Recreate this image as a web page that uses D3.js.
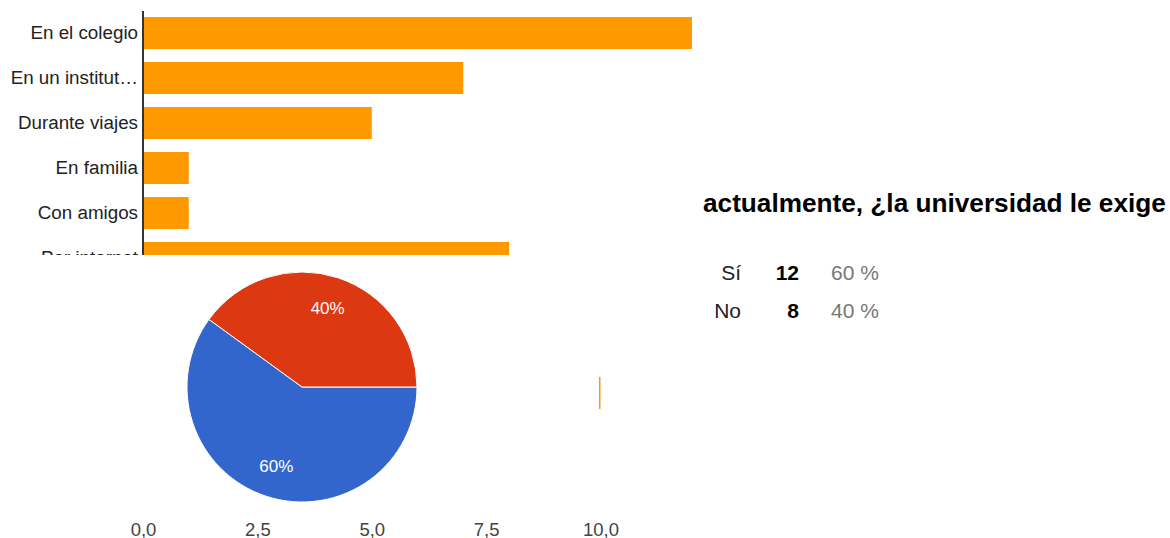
<!DOCTYPE html>
<html><head><meta charset="utf-8">
<script src="https://cdn.jsdelivr.net/npm/d3@7"></script>
<style>
html,body{margin:0;padding:0;background:#fff;}
svg{display:block;font-family:"Liberation Sans",Arial,sans-serif;}
</style></head>
<body>
<svg id="c" width="1170" height="538"></svg>
<script>
// Bar chart data (categories 7-8 are hidden behind the pie panel; values estimated)
const barCategories = ["En el colegio","En un institut…","Durante viajes","En familia","Con amigos","Por internet","Viendo películas","Escuchando música","Por cuenta propia"];
const barValues = [12,7,5,1,1,8,3,2,10];
const visibleLabelCount = 6;
const xTickValues = [0,2.5,5,7.5,10];

// Pie data
const pieLabels = ["Sí","No"];
const pieValues = [12,8];
const pieColors = ["#3366cc","#dc3912"];

// Table
const tableTitle = "actualmente, ¿la universidad le exige";
const tableCounts = [12,8];
const tablePercents = ["60 %","40 %"];

const svg = d3.select("#c");

// ----- bar chart -----
const x = d3.scaleLinear().domain([0,12.5]).range([143, 143+12.5*45.75]);
const n = barCategories.length;
const y = d3.scaleBand().domain(barCategories).range([10.5, 10.5+45*n]).paddingInner(13/45).paddingOuter(6.5/45);

const bars = svg.append("g");
bars.selectAll("rect").data(barCategories).join("rect")
  .attr("x", x(0)).attr("y", d=>y(d))
  .attr("width", (d,i)=>x(barValues[i])-x(0))
  .attr("height", y.bandwidth())
  .attr("fill","#ff9900");

const yAxis = svg.append("g").attr("transform",`translate(${x(0)},0)`)
  .call(d3.axisLeft(y).tickSize(0).tickPadding(5));
yAxis.select(".domain").remove();
yAxis.selectAll(".tick").filter((d,i)=>i>=visibleLabelCount).remove();
yAxis.selectAll("text").attr("font-size","18.8px").attr("fill","#222")
  .attr("font-family","Liberation Sans, Arial, sans-serif");
svg.append("line").attr("x1",x(0)).attr("x2",x(0)).attr("y1",11).attr("y2",y.range()[1])
  .attr("stroke","#333").attr("stroke-width",2);

const xAxis = svg.append("g").attr("transform","translate(0,517)")
  .call(d3.axisBottom(x).tickValues(xTickValues).tickSize(0).tickPadding(0)
     .tickFormat(d=>d3.format(".1f")(d).replace(".",",")));
xAxis.select(".domain").remove();
xAxis.selectAll("text").attr("font-size","18.5px").attr("fill","#444")
  .attr("dy","1em").attr("y",0)
  .attr("font-family","Liberation Sans, Arial, sans-serif");

// ----- pie panel (covers lower bar chart) -----
svg.append("rect").attr("x",0).attr("y",255).attr("width",599).attr("height",259).attr("fill","#fff");

const cx = 302, cy = 387, r = 115;
const pie = d3.pie().sort(null).value(d=>d).startAngle(Math.PI/2).endAngle(Math.PI/2+2*Math.PI);
const arcs = pie(pieValues);
const arc = d3.arc().innerRadius(0).outerRadius(r);
const labelArc = d3.arc().innerRadius(83).outerRadius(83);
const pg = svg.append("g").attr("transform",`translate(${cx},${cy})`);
pg.selectAll("path").data(arcs).join("path")
  .attr("d",arc).attr("fill",(d,i)=>pieColors[i]).attr("stroke","#fff").attr("stroke-width",1);
pg.selectAll("text").data(arcs).join("text")
  .attr("transform",d=>`translate(${labelArc.centroid(d)})`)
  .attr("text-anchor","middle").attr("dy","0.35em")
  .attr("font-size","17px").attr("fill","#fff")
  .text(d=>Math.round(100*d.value/d3.sum(pieValues))+"%");

// ----- table panel -----
svg.append("text").attr("x",703).attr("y",212).attr("font-size","26.2px").attr("font-weight","bold")
  .attr("fill","#000").text(tableTitle);
const rowY = [280,318];
pieLabels.forEach((lab,i)=>{
  svg.append("text").attr("x",741).attr("y",rowY[i]).attr("text-anchor","end")
    .attr("font-size","21px").attr("fill","#222").text(lab);
  svg.append("text").attr("x",799).attr("y",rowY[i]).attr("text-anchor","end")
    .attr("font-size","21px").attr("font-weight","bold").attr("fill","#000").text(tableCounts[i]);
  svg.append("text").attr("x",831).attr("y",rowY[i])
    .attr("font-size","21px").attr("fill","#777").text(tablePercents[i]);
});
</script>
</body></html>
